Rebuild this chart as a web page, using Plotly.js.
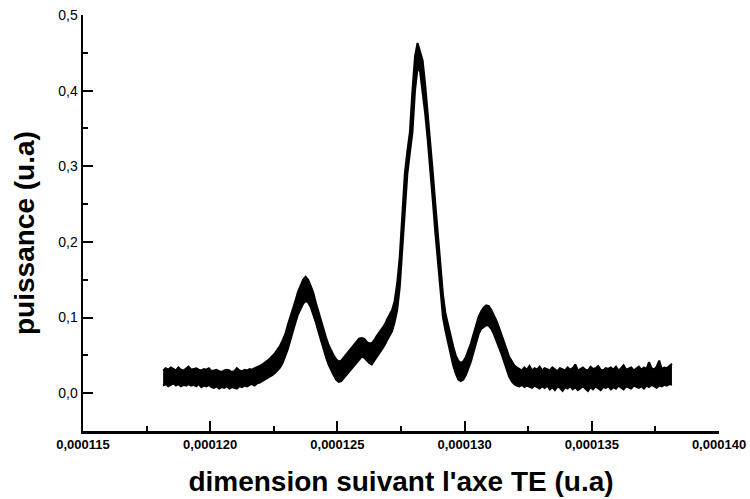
<!DOCTYPE html>
<html>
<head>
<meta charset="utf-8">
<script src="https://cdn.plot.ly/plotly-3.0.1.min.js"></script>
<style>html,body{margin:0;padding:0;background:#fff;}#chart{width:750px;height:499px;}</style>
</head>
<body>
<div id="chart"></div>
<script>
// Sampling grid of the recorded signal (position along TE axis)
const xStart = 0.00011815;
const xStep = 0.0000001;
// Power (u.a): upper and lower edge of the noisy trace
const puissanceHaut = [
  0.030,0.033,0.031,0.034,0.032,0.030,0.034,0.031,0.030,0.033,
  0.035,0.031,0.032,0.033,0.031,0.030,0.032,0.031,0.033,0.029,
  0.030,0.031,0.029,0.028,0.030,0.031,0.030,0.028,0.029,0.033,
  0.030,0.029,0.031,0.030,0.032,0.031,0.033,0.034,0.036,0.038,
  0.040,0.043,0.046,0.049,0.053,0.058,0.063,0.070,0.078,0.090,
  0.100,0.110,0.122,0.134,0.143,0.150,0.154,0.150,0.142,0.133,
  0.120,0.108,0.096,0.085,0.074,0.064,0.056,0.050,0.045,0.042,
  0.043,0.047,0.051,0.055,0.060,0.064,0.068,0.072,0.073,0.072,
  0.068,0.066,0.066,0.070,0.076,0.081,0.085,0.090,0.097,0.103,
  0.110,0.122,0.145,0.180,0.235,0.290,0.320,0.345,0.400,0.445,
  0.463,0.452,0.440,0.408,0.372,0.338,0.292,0.250,0.212,0.170,
  0.130,0.105,0.090,0.075,0.062,0.050,0.043,0.040,0.042,0.048,
  0.056,0.066,0.078,0.090,0.101,0.108,0.113,0.116,0.115,0.110,
  0.104,0.096,0.087,0.078,0.068,0.058,0.048,0.042,0.037,0.034,
  0.032,0.030,0.034,0.031,0.036,0.030,0.033,0.031,0.035,0.030,
  0.033,0.032,0.030,0.034,0.031,0.029,0.033,0.032,0.030,0.034,
  0.031,0.033,0.038,0.030,0.032,0.034,0.031,0.030,0.035,0.032,
  0.033,0.036,0.031,0.030,0.033,0.032,0.034,0.031,0.035,0.030,
  0.033,0.037,0.031,0.032,0.034,0.030,0.033,0.035,0.031,0.034,
  0.032,0.041,0.033,0.031,0.035,0.043,0.032,0.034,0.033,0.036,
  0.039
];
const puissanceBas = [
  0.010,0.012,0.009,0.011,0.013,0.010,0.012,0.009,0.011,0.010,
  0.012,0.010,0.011,0.009,0.012,0.008,0.010,0.009,0.011,0.008,
  0.007,0.009,0.006,0.008,0.007,0.009,0.006,0.008,0.007,0.006,
  0.009,0.008,0.010,0.009,0.011,0.012,0.010,0.013,0.014,0.016,
  0.017,0.019,0.021,0.024,0.027,0.030,0.034,0.040,0.048,0.058,
  0.070,0.080,0.093,0.104,0.112,0.118,0.122,0.120,0.114,0.105,
  0.094,0.082,0.070,0.058,0.048,0.038,0.030,0.024,0.018,0.015,
  0.016,0.020,0.024,0.028,0.031,0.035,0.040,0.044,0.048,0.047,
  0.043,0.040,0.038,0.043,0.049,0.054,0.058,0.063,0.070,0.076,
  0.082,0.094,0.110,0.140,0.190,0.245,0.290,0.318,0.345,0.400,
  0.430,0.425,0.400,0.370,0.335,0.298,0.255,0.212,0.172,0.130,
  0.100,0.082,0.066,0.050,0.037,0.026,0.018,0.016,0.018,0.024,
  0.032,0.042,0.054,0.066,0.078,0.085,0.088,0.090,0.089,0.085,
  0.078,0.070,0.062,0.052,0.042,0.032,0.022,0.016,0.012,0.010,
  0.009,0.011,0.008,0.010,0.009,0.007,0.010,0.008,0.006,0.009,
  0.007,0.010,0.005,0.008,0.004,0.009,0.007,0.003,0.008,0.006,
  0.009,0.005,0.008,0.004,0.007,0.009,0.006,0.003,0.008,0.005,
  0.009,0.006,0.004,0.008,0.007,0.009,0.005,0.008,0.006,0.010,
  0.007,0.005,0.009,0.008,0.006,0.010,0.008,0.007,0.009,0.006,
  0.010,0.008,0.011,0.009,0.007,0.010,0.009,0.011,0.010,0.012,
  0.011
];
const position = puissanceHaut.map((_, i) => xStart + i * xStep);

const xTicks = [0.000115, 0.000120, 0.000125, 0.000130, 0.000135, 0.000140];
const yTicks = [0.0, 0.1, 0.2, 0.3, 0.4, 0.5];
const xTitle = "dimension suivant l'axe TE (u.a)";
const yTitle = "puissance (u.a)";

const fontFam = "Liberation Sans, Arial, sans-serif";

Plotly.newPlot('chart', [
  {
    x: position, y: puissanceBas, type: 'scatter', mode: 'lines',
    line: {color: '#000', width: 2}, hoverinfo: 'skip'
  },
  {
    x: position, y: puissanceHaut, type: 'scatter', mode: 'lines',
    line: {color: '#000', width: 2}, fill: 'tonexty', fillcolor: '#000', hoverinfo: 'skip'
  }
], {
  width: 750, height: 499,
  margin: {l: 83, r: 31, t: 15, b: 68},
  paper_bgcolor: '#fff', plot_bgcolor: '#fff',
  separators: ',.',
  showlegend: false,
  xaxis: {
    range: [0.000115, 0.000140],
    tickvals: xTicks,
    tickformat: '.6f',
    showline: true, linecolor: '#000', linewidth: 2.5,
    ticks: 'inside', ticklen: 10, tickwidth: 2, tickcolor: '#000',
    minor: {ticks: 'inside', ticklen: 5, tickwidth: 2, tickcolor: '#000', dtick: 0.0000025, tick0: 0.000115, showgrid: false},
    showgrid: false, zeroline: false,
    tickfont: {family: fontFam, size: 13, color: '#000', weight: 700},
    title: {text: xTitle, font: {family: fontFam, size: 28, color: '#000', weight: 700}, standoff: 21}
  },
  yaxis: {
    range: [-0.05, 0.5],
    tickvals: yTicks,
    tickformat: '.1f',
    showline: true, linecolor: '#000', linewidth: 2.5,
    ticks: 'inside', ticklen: 10, tickwidth: 2, tickcolor: '#000',
    minor: {ticks: 'inside', ticklen: 5, tickwidth: 2, tickcolor: '#000', dtick: 0.05, tick0: 0, showgrid: false},
    showgrid: false, zeroline: false,
    tickfont: {family: fontFam, size: 14, color: '#000'}
  },
  annotations: [{
    text: yTitle, xref: 'paper', yref: 'paper', x: 0, y: 0.476,
    xanchor: 'center', yanchor: 'middle', xshift: -58, textangle: -90,
    showarrow: false,
    font: {family: fontFam, size: 28, color: '#000', weight: 700}
  }]
}, {displayModeBar: false, staticPlot: true});
</script>
</body>
</html>
